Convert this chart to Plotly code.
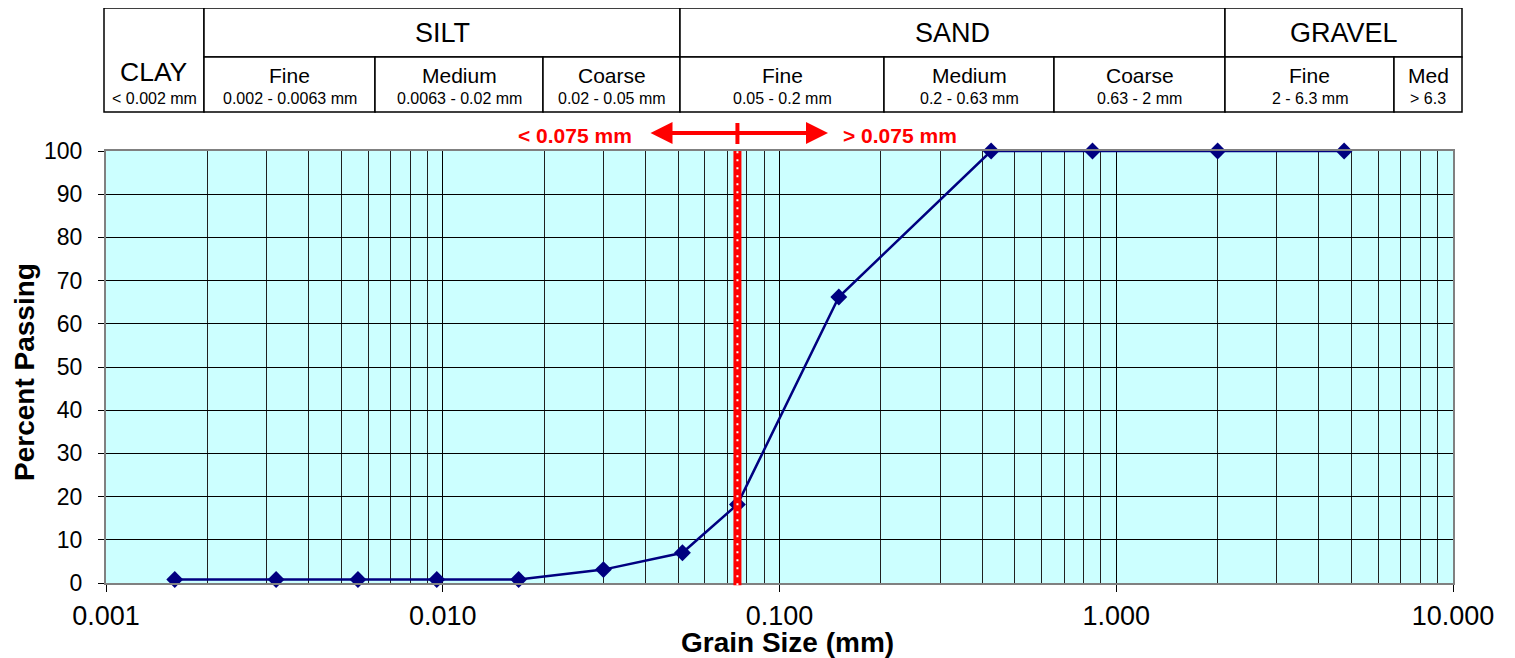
import plotly.graph_objects as go

# ---- data ----
grain_size_mm = [0.0016, 0.0032, 0.0056, 0.0096, 0.0168, 0.030, 0.0515, 0.075, 0.150, 0.425, 0.850, 2.0, 4.75]
percent_passing = [0.8, 0.8, 0.8, 0.8, 0.8, 3.1, 7.0, 18.2, 66.2, 100, 100, 100, 100]

x_tick_vals = [0.001, 0.01, 0.1, 1, 10]
x_tick_text = ["0.001", "0.010", "0.100", "1.000", "10.000"]
x_minor_vals = [m * d for d in [0.001, 0.01, 0.1, 1] for m in range(2, 10)]

split_size = 0.075
split_left_label = "< 0.075 mm"
split_right_label = "> 0.075 mm"

# header table (page-pixel column edges and labels)
top_groups = [("SILT", 204, 680), ("SAND", 680, 1225), ("GRAVEL", 1225, 1462)]
sub_cells = [
    ("Fine", "0.002 - 0.0063 mm", 204, 375),
    ("Medium", "0.0063 - 0.02 mm", 375, 543),
    ("Coarse", "0.02 - 0.05 mm", 543, 680),
    ("Fine", "0.05 - 0.2 mm", 680, 884),
    ("Medium", "0.2 - 0.63 mm", 884, 1054),
    ("Coarse", "0.63 - 2 mm", 1054, 1225),
    ("Fine", "2 - 6.3 mm", 1225, 1394),
    ("Med", "> 6.3", 1394, 1462),
]
clay_cell = ("CLAY", "< 0.002 mm", 104, 204)

# ---- geometry helpers (page pixels -> paper); page body has an 8px margin ----
OFF = 8
PAGE_W, PAGE_H = 1515, 658
W, H = PAGE_W - OFF, PAGE_H - OFF
L, R, T, B = 106, 1453, 151, 583   # plot area in page pixels
def px(x):
    return (x - L) / (R - L)
def py(y):
    return (B - y) / (B - T)

FONT = "Arial, Liberation Sans, sans-serif"
NAVY = "#000080"

fig = go.Figure()
fig.add_trace(go.Scatter(
    x=grain_size_mm, y=percent_passing, mode="lines+markers",
    line=dict(color=NAVY, width=2.5),
    marker=dict(symbol="diamond", size=13, color=NAVY),
    cliponaxis=False, showlegend=False,
))

shapes = []
annotations = []

# red split line at 0.075 mm
shapes.append(dict(type="line", xref="x", yref="paper", x0=split_size, x1=split_size,
                   y0=-0.005, y1=1, line=dict(color="#FF0000", width=8), layer="above"))
shapes.append(dict(type="line", xref="x", yref="paper", x0=split_size, x1=split_size,
                   y0=-0.005, y1=1, line=dict(color="white", width=2, dash="2px,6px"), layer="above"))
# small vertical tick on arrow
shapes.append(dict(type="line", xref="x", yref="paper", x0=split_size, x1=split_size,
                   y0=py(123), y1=py(144), line=dict(color="#FF0000", width=4)))
# double-headed arrow
annotations.append(dict(xref="paper", yref="paper", x=px(828), y=py(133), ax=-(828 - 649), ay=0,
                        showarrow=True, arrowhead=2, arrowside="end+start",
                        arrowsize=1.1, arrowwidth=4, arrowcolor="#FF0000", text=""))
annotations.append(dict(xref="paper", yref="paper", x=px(634), y=py(135), xanchor="right", yanchor="middle",
                        text=split_left_label, showarrow=False,
                        font=dict(family=FONT, size=21, color="#FF0000", weight="bold")))
annotations.append(dict(xref="paper", yref="paper", x=px(841), y=py(135), xanchor="left", yanchor="middle",
                        text=split_right_label, showarrow=False,
                        font=dict(family=FONT, size=21, color="#FF0000", weight="bold")))

# header table
HT, HM, HB = 8, 57, 112
def rect(x0, y0, x1, y1):
    shapes.append(dict(type="rect", xref="paper", yref="paper", x0=px(x0), x1=px(x1),
                       y0=py(y1), y1=py(y0), line=dict(color="black", width=1.5), fillcolor="white"))
rect(clay_cell[2], HT, clay_cell[3], HB)
for name, x0, x1 in top_groups:
    rect(x0, HT, x1, HM)
    annotations.append(dict(xref="paper", yref="paper", x=px((x0 + x1) / 2), y=py(33), text=name,
                            showarrow=False, xanchor="center", yanchor="middle",
                            font=dict(family=FONT, size=27, color="black")))
for name, rng, x0, x1 in sub_cells:
    rect(x0, HM, x1, HB)
    annotations.append(dict(xref="paper", yref="paper", x=px((x0 + x1) / 2), y=py(76), text=name,
                            showarrow=False, xanchor="center", yanchor="middle",
                            font=dict(family=FONT, size=21, color="black")))
    annotations.append(dict(xref="paper", yref="paper", x=px((x0 + x1) / 2), y=py(98), text=rng,
                            showarrow=False, xanchor="center", yanchor="middle",
                            font=dict(family=FONT, size=16, color="black")))
annotations.append(dict(xref="paper", yref="paper", x=px((clay_cell[2] + clay_cell[3]) / 2), y=py(72),
                        text=clay_cell[0], showarrow=False, xanchor="center", yanchor="middle",
                        font=dict(family=FONT, size=26.5, color="black")))
annotations.append(dict(xref="paper", yref="paper", x=px((clay_cell[2] + clay_cell[3]) / 2), y=py(99),
                        text=clay_cell[1], showarrow=False, xanchor="center", yanchor="middle",
                        font=dict(family=FONT, size=16, color="black")))

# axis titles
annotations.append(dict(xref="paper", yref="paper", x=px(787), y=py(642), text="Grain Size (mm)",
                        showarrow=False, xanchor="center", yanchor="middle",
                        font=dict(family=FONT, size=28, color="black", weight="bold")))
annotations.append(dict(xref="paper", yref="paper", x=px(24), y=py(372), text="Percent Passing",
                        showarrow=False, xanchor="center", yanchor="middle", textangle=-90,
                        font=dict(family=FONT, size=28, color="black", weight="bold")))

fig.update_layout(
    width=W, height=H,
    margin=dict(l=L - OFF, r=PAGE_W - R, t=T - OFF, b=PAGE_H - B, autoexpand=False),
    paper_bgcolor="white", plot_bgcolor="#CCFFFF",
    shapes=shapes, annotations=annotations,
    xaxis=dict(type="log", range=[-3, 1], tickvals=x_tick_vals, ticktext=x_tick_text,
               showgrid=True, gridcolor="black", gridwidth=1,
               minor=dict(tickvals=x_minor_vals, showgrid=True, gridcolor="#202020", gridwidth=1, ticklen=0),
               ticks="outside", ticklen=7, tickcolor="black", tickwidth=1,
               showline=True, linecolor="#808080", linewidth=2, mirror=True,
               ticklabelstandoff=1, zeroline=False,
               tickfont=dict(family=FONT, size=27, color="black")),
    yaxis=dict(range=[0, 100], dtick=10, showgrid=True, gridcolor="black", gridwidth=1,
               ticks="outside", ticklen=6, tickcolor="black", tickwidth=1,
               showline=True, linecolor="#808080", linewidth=2, mirror=True,
               ticklabelstandoff=11, zeroline=False,
               tickfont=dict(family=FONT, size=23, color="black")),
)

fig.write_html("out.html")
